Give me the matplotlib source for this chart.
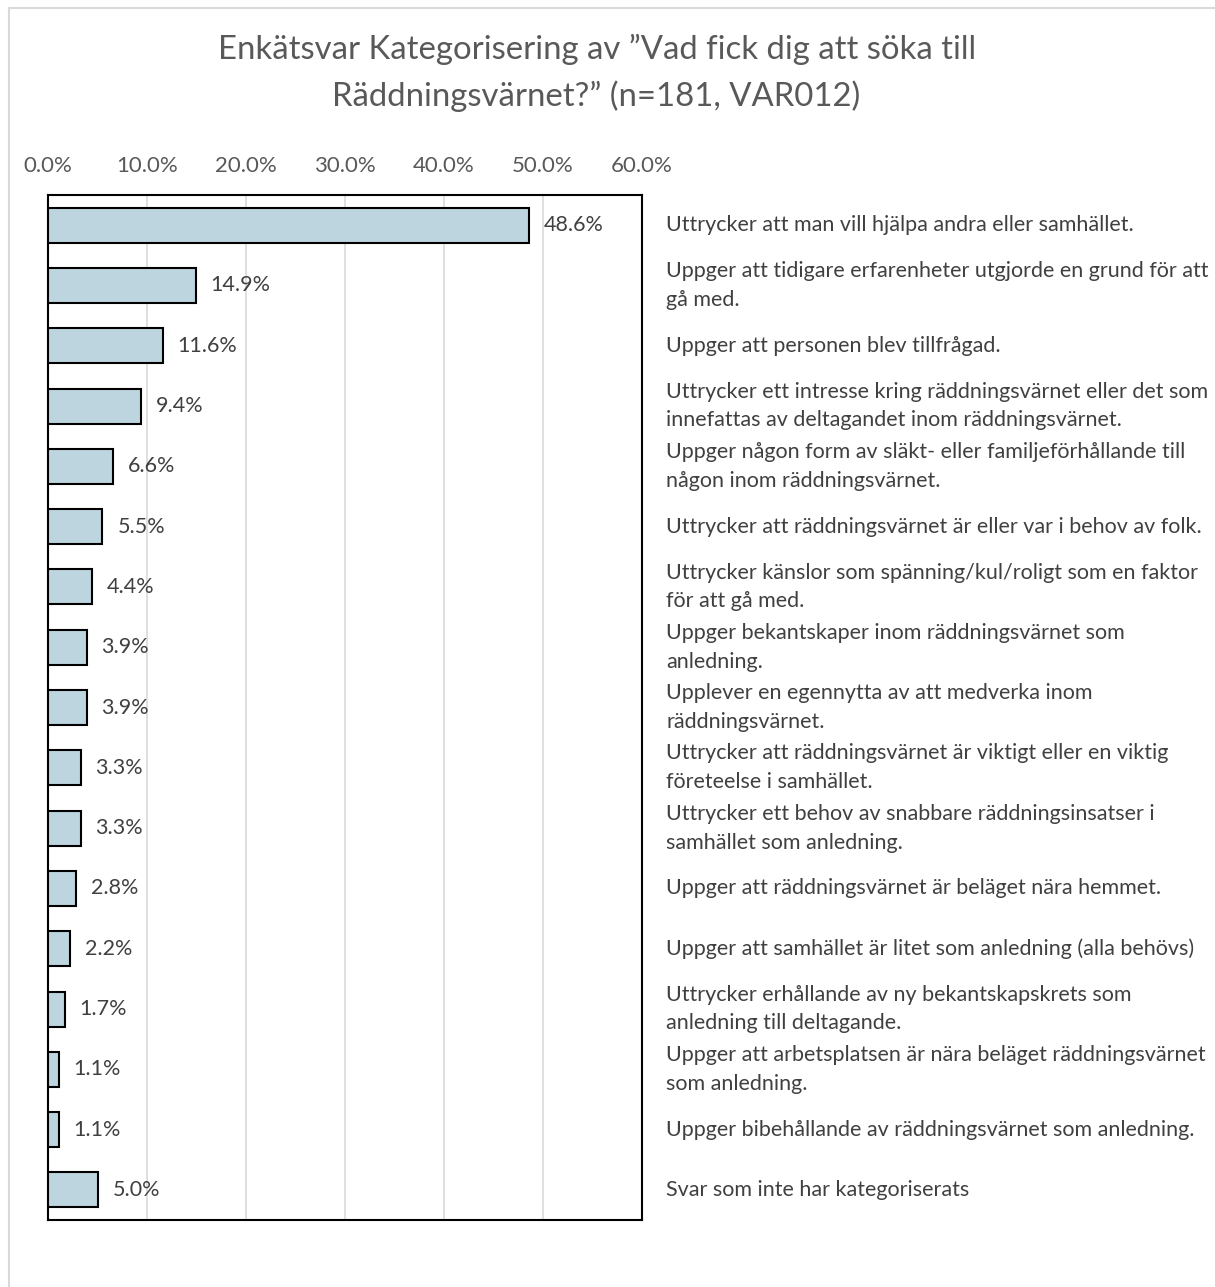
import matplotlib.pyplot as plt
import matplotlib.patches as patches
from matplotlib.ticker import FuncFormatter

plt.rcParams['font.family'] = ['Lato', 'DejaVu Sans']

# answer categories (top to bottom) and share of respondents
categories = [
    "Uttrycker att man vill hjälpa andra eller samhället.",
    "Uppger att tidigare erfarenheter utgjorde en grund för att\ngå med.",
    "Uppger att personen blev tillfrågad.",
    "Uttrycker ett intresse kring räddningsvärnet eller det som\ninnefattas av deltagandet inom räddningsvärnet.",
    "Uppger någon form av släkt- eller familjeförhållande till\nnågon inom räddningsvärnet.",
    "Uttrycker att räddningsvärnet är eller var i behov av folk.",
    "Uttrycker känslor som spänning/kul/roligt som en faktor\nför att gå med.",
    "Uppger bekantskaper inom räddningsvärnet som\nanledning.",
    "Upplever en egennytta av att medverka inom\nräddningsvärnet.",
    "Uttrycker att räddningsvärnet är viktigt eller en viktig\nföreteelse i samhället.",
    "Uttrycker ett behov av snabbare räddningsinsatser i\nsamhället som anledning.",
    "Uppger att räddningsvärnet är beläget nära hemmet.",
    "Uppger att samhället är litet som anledning (alla behövs)",
    "Uttrycker erhållande av ny bekantskapskrets som\nanledning till deltagande.",
    "Uppger att arbetsplatsen är nära beläget räddningsvärnet\nsom anledning.",
    "Uppger bibehållande av räddningsvärnet som anledning.",
    "Svar som inte har kategoriserats",
]
shares = [0.486, 0.149, 0.116, 0.094, 0.066, 0.055, 0.044, 0.039, 0.039,
          0.033, 0.033, 0.028, 0.022, 0.017, 0.011, 0.011, 0.050]
xticks = [0.0, 0.1, 0.2, 0.3, 0.4, 0.5, 0.6]

fig = plt.figure(figsize=(12.15, 12.87), dpi=100)
ax = fig.add_axes([0.0395, 0.052, 0.489, 0.7965])

ypos = list(range(len(shares)))
ax.barh(ypos, shares, height=0.58, color='#bdd5df', edgecolor='black',
        linewidth=1.5, zorder=3)

for y, v in zip(ypos, shares):
    ax.text(v + 0.015, y, f"{v*100:.1f}%", va='center', ha='left',
            fontsize=15.5, color='#404040', zorder=4)

for y, lab in zip(ypos, categories):
    ax.text(1.0404, y, lab, transform=ax.get_yaxis_transform(),
            va='center', ha='left', fontsize=15.5, color='#404040',
            linespacing=1.55, clip_on=False)

ax.set_xlim(0, 0.6)
ax.set_ylim(len(shares) - 0.5, -0.5)
ax.set_xticks(xticks)
ax.xaxis.set_major_formatter(FuncFormatter(lambda v, p: f"{v*100:.1f}%"))
ax.xaxis.tick_top()
ax.tick_params(axis='x', length=0, labelsize=16, labelcolor='#595959', pad=14)
ax.set_yticks([])
ax.grid(axis='x', color='#d9d9d9', linewidth=1.2, zorder=0)
for s in ax.spines.values():
    s.set_color('black')
    s.set_linewidth(1.5)

fig.text(0.491, 0.962, "Enkätsvar Kategorisering av \u201dVad fick dig att söka till",
         ha='center', va='center', fontsize=23.7, color='#595959')
fig.text(0.491, 0.925, "Räddningsvärnet?\u201d (n=181, VAR012)",
         ha='center', va='center', fontsize=23.7, color='#595959')

# light chart frame
fig.patches.append(patches.Rectangle((0.007, -0.01), 1.0, 1.004,
                                     transform=fig.transFigure, fill=False,
                                     edgecolor='#d9d9d9', linewidth=1.5))

plt.savefig("out.png", dpi=100)
plt.close()
